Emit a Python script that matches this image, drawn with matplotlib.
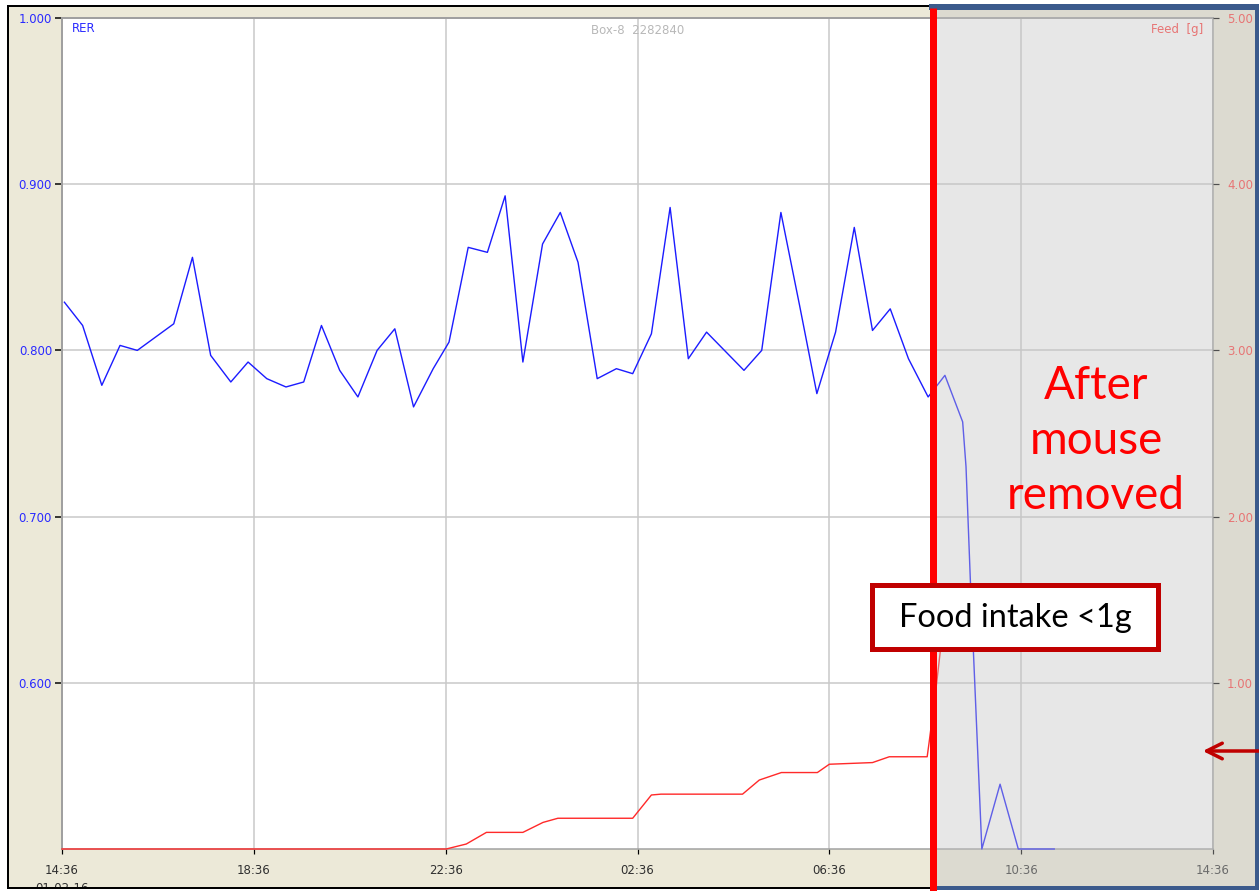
import matplotlib
matplotlib.use("Agg")
import matplotlib.pyplot as plt
from matplotlib.patches import Rectangle, FancyArrowPatch
from matplotlib.lines import Line2D

W, H = 1259, 891

# RER, sampled every ~23 min; hours after 14:36 on 01-02-16
rer_hours = [0.05, 0.43, 0.83, 1.21, 1.57, 2.33, 2.72, 3.10, 3.52, 3.88,
             4.27, 4.67, 5.04, 5.41, 5.79, 6.17, 6.57, 6.94, 7.33, 7.74,
             8.07, 8.47, 8.87, 9.24, 9.61, 10.02, 10.39, 10.76, 11.16, 11.56,
             11.90, 12.29, 12.68, 13.06, 13.44, 14.22, 14.59, 14.99, 15.38, 15.74,
             16.13, 16.52, 16.90, 17.27, 17.65, 18.06, 18.41, 18.78, 18.85, 18.94,
             19.09, 19.18, 19.56, 19.94, 20.69]
rer = [0.829, 0.815, 0.779, 0.803, 0.800, 0.816, 0.856, 0.797, 0.781, 0.793,
       0.783, 0.778, 0.781, 0.815, 0.788, 0.772, 0.800, 0.813, 0.766, 0.789,
       0.805, 0.862, 0.859, 0.893, 0.793, 0.864, 0.883, 0.853, 0.783, 0.789,
       0.786, 0.810, 0.886, 0.795, 0.811, 0.788, 0.800, 0.883, 0.827, 0.774,
       0.811, 0.874, 0.812, 0.825, 0.795, 0.772, 0.785, 0.757, 0.730, 0.662,
       0.561, 0.500, 0.539, 0.500, 0.500]

# cumulative feed [g]
feed_hours = [0.0, 8.01, 8.43, 8.85, 9.61, 10.03, 10.34, 11.90, 12.29, 12.49,
              14.19, 14.54, 15.00, 15.75, 16.00, 16.90, 17.25, 18.04, 18.08, 18.23,
              18.31, 18.42]
feed = [0.0, 0.0, 0.03, 0.10, 0.10, 0.16, 0.185, 0.185, 0.325, 0.33,
        0.33, 0.415, 0.46, 0.46, 0.51, 0.52, 0.555, 0.555, 0.64, 0.98,
        1.18, 1.45]

xticks = [0, 4, 8, 12, 16, 20, 24]
xticklabels = ["14:36", "18:36", "22:36", "02:36", "06:36", "10:36", "14:36"]
rer_ticks = [0.6, 0.7, 0.8, 0.9, 1.0]
feed_ticks = [1, 2, 3, 4, 5]


def fx(x):
    return x / W


def fy(y):
    return 1 - y / H


def pt(px):
    return px * 0.72


fig = plt.figure(figsize=(W / 100, H / 100), dpi=100)
fig.patch.set_facecolor("white")

# window panel
fig.add_artist(Rectangle((fx(7), fy(888)), fx(1257 - 7), (888 - 5) / H,
                         transform=fig.transFigure, facecolor="#ece9d8",
                         edgecolor="none", zorder=-1))

ax = fig.add_axes([fx(62), fy(849), fx(1213 - 62), (849 - 18) / H])
ax.set_facecolor("white")
ax.plot(rer_hours, rer, color="#1c1cff", lw=pt(1.4), clip_on=False, zorder=3)
ax.set_xlim(0, 24)
ax.set_ylim(0.5, 1.0)
ax.set_xticks(xticks)
ax.set_xticklabels(xticklabels)
ax.set_yticks(rer_ticks)
ax.set_yticklabels(["%.3f" % v for v in rer_ticks])
ax.grid(True, color="#c8c8c8", lw=pt(1.5))
ax.set_axisbelow(True)
ax.tick_params(axis="y", colors="black", labelcolor="#2a2aff", labelsize=8.5,
               length=pt(7), width=pt(1.5), pad=pt(3))
ax.tick_params(axis="x", colors="black", labelcolor="#303030", labelsize=8.5,
               length=pt(5), width=pt(1.2), pad=pt(10))
for name, sp in ax.spines.items():
    sp.set_color("#a0a0a0")
    sp.set_linewidth(pt(2) if name in ("left", "top") else pt(1.5))

ax2 = ax.twinx()
ax2.plot(feed_hours, feed, color="#ff2a2a", lw=pt(1.4), clip_on=False)
ax2.set_ylim(0, 5)
ax2.set_yticks(feed_ticks)
ax2.set_yticklabels(["%.2f" % v for v in feed_ticks])
ax2.tick_params(axis="y", colors="black", labelcolor="#ff4040", labelsize=8.5,
                length=pt(6), width=pt(1.2), pad=pt(8))
for sp in ax2.spines.values():
    sp.set_visible(False)

fig.text(fx(72), fy(28), "RER", color="#2a2aff", fontsize=8.5, va="center")
fig.text(fx(638), fy(30), "Box-8  2282840", color="#b8b8b8", fontsize=8.5,
         ha="center", va="center")
fig.text(fx(1203), fy(30), "Feed  [g]", color="#ff4040", fontsize=8.5,
         ha="right", va="center")
fig.text(fx(62), fy(882), "01-02-16", color="#303030", fontsize=8.5,
         ha="center", va="top")

# panel outline, bottom strip cuts the date label
fig.add_artist(Rectangle((0, 0), 1, 2.5 / H, transform=fig.transFigure,
                         facecolor="white", edgecolor="none", zorder=4))
fig.add_artist(Rectangle((fx(7.5), fy(888)), fx(1257 - 7.5), (888 - 5.5) / H,
                         transform=fig.transFigure, facecolor="none",
                         edgecolor="black", lw=pt(2), zorder=4))

# shaded period after the mouse was taken out
fig.add_artist(Rectangle((fx(932), fy(889)), fx(W - 932), (889 - 4) / H,
                         transform=fig.transFigure, facecolor="#c4c4c4",
                         alpha=0.4, edgecolor="none", zorder=5))
fig.add_artist(Rectangle((fx(934), fy(888)), fx(1257 - 934), (888 - 7) / H,
                         transform=fig.transFigure, facecolor="none",
                         edgecolor="#3b5a8c", lw=pt(4), zorder=6))
fig.add_artist(Line2D([fx(932), fx(1259)], [fy(7), fy(7)],
                      transform=fig.transFigure, color="#3b5a8c",
                      lw=pt(6), zorder=6))

fig.add_artist(Line2D([fx(933), fx(933)], [fy(8), fy(891)],
                      transform=fig.transFigure, color="#ff0000",
                      lw=pt(7), solid_capstyle="butt", zorder=7))

fig.text(fx(1096), fy(441), "After\nmouse\nremoved", color="#ff0000",
         fontsize=33, family="Lato", ha="center", va="center",
         linespacing=1.38, zorder=8)

fig.add_artist(Rectangle((fx(872), fy(649)), fx(1158 - 872), (649 - 585) / H,
                         transform=fig.transFigure, facecolor="white",
                         edgecolor="#c00000", lw=pt(5), zorder=8))
fig.text(fx(1015), fy(618), "Food intake <1g", color="black", fontsize=23.5,
         family="Lato", ha="center", va="center", zorder=9)

fig.add_artist(FancyArrowPatch((fx(1262), fy(751)), (fx(1200), fy(751)),
                               transform=fig.transFigure, arrowstyle="->",
                               mutation_scale=28, color="#c00000",
                               lw=pt(3.5), zorder=8))

fig.savefig("out.png", dpi=100)
